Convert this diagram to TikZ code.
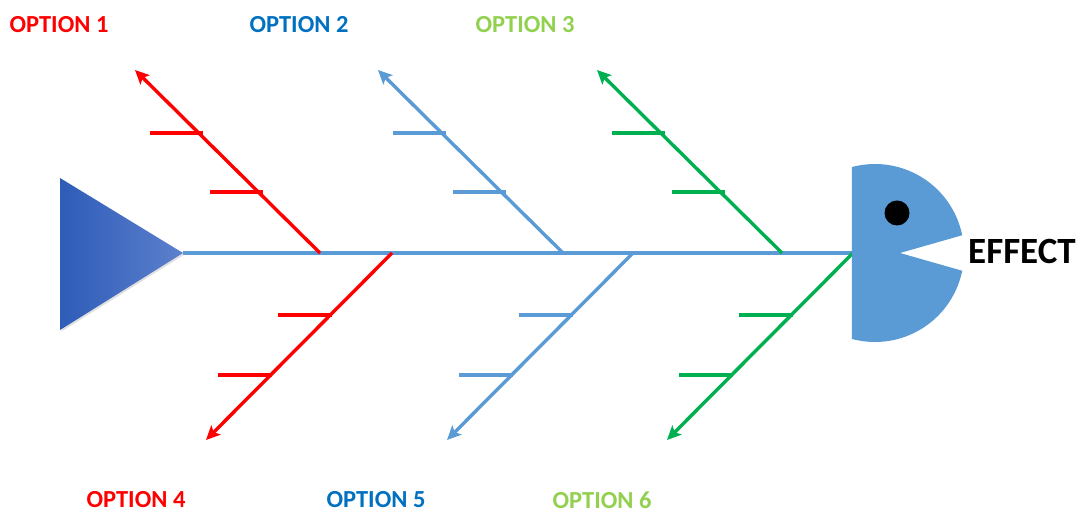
\documentclass[tikz,border=0pt]{standalone}
\usepackage{fontspec}
\setmainfont{Carlito}
\usetikzlibrary{arrows.meta,shadows,calc}
\definecolor{spineblue}{RGB}{91,155,213}
\definecolor{optred}{RGB}{255,0,0}
\definecolor{bonered}{RGB}{255,0,0}
\definecolor{boneblue}{RGB}{91,155,213}
\definecolor{bonegreen}{RGB}{0,176,80}
\definecolor{lblblue}{RGB}{0,112,192}
\definecolor{lblgreen}{RGB}{146,208,80}
\definecolor{tailleft}{RGB}{46,92,184}
\definecolor{tailright}{RGB}{92,128,204}
\begin{document}
\begin{tikzpicture}[x=1pt,y=1pt,
  bone/.style={line width=3.4pt,-{Stealth[length=14pt,width=13pt,inset=3pt]}},
  rib/.style={line width=3.4pt},
  lbl/.style={font=\bfseries\fontsize{24.5}{28}\selectfont, inner sep=0pt},
]
\useasboundingbox (0,0) rectangle (1083,513);

% tail
\path[left color=tailleft,right color=tailright,
      drop shadow={shadow xshift=1.5pt,shadow yshift=-1.5pt,opacity=0.25}]
  (60,335) -- (183,260) -- (60,183) -- cycle;
\coordinate (tailtip) at (183,260);
\coordinate (headback) at (852,260);

% spine
\draw[spineblue,line width=3.8pt] (tailtip) -- (headback);

% upper bones
\foreach \bx/\col in {320/bonered,563/boneblue,782/bonegreen}{
  \coordinate (ub\bx) at (\bx,260);
  \coordinate (ut\bx) at ({\bx-185},443);
  \draw[bone,\col] (ub\bx) -- (ut\bx);
  \coordinate (ra\bx) at ({\bx-170},380);
  \coordinate (rb\bx) at ({\bx-117},380);
  \coordinate (rc\bx) at ({\bx-110},321);
  \coordinate (rd\bx) at ({\bx-57},321);
  \draw[rib,\col] (ra\bx) -- (rb\bx);
  \draw[rib,\col] (rc\bx) -- (rd\bx);
}
% lower bones
\foreach \bx/\col in {392/bonered,633/boneblue,853/bonegreen}{
  \coordinate (lb\bx) at (\bx,260);
  \coordinate (lt\bx) at ({\bx-186},73);
  \draw[bone,\col] (lb\bx) -- (lt\bx);
  \coordinate (sa\bx) at ({\bx-114},198);
  \coordinate (sb\bx) at ({\bx-60},198);
  \coordinate (sc\bx) at ({\bx-174},138);
  \coordinate (sd\bx) at ({\bx-120},138);
  \draw[rib,\col] (sa\bx) -- (sb\bx);
  \draw[rib,\col] (sc\bx) -- (sd\bx);
}

% head
\coordinate (hc) at (875,260);
\fill[spineblue] ($(hc)+(105:89)$) arc[start angle=105,end angle=11.5,radius=89]
  -- (900,260) -- ($(hc)+(-11.5:89)$) arc[start angle=-11.5,end angle=-105,radius=89] -- cycle;
\fill[black] (897,300) circle (12.5);

% labels
\node[lbl,text=optred]   (o1) at (59,488) {OPTION 1};
\node[lbl,text=lblblue]  (o2) at (299,488) {OPTION 2};
\node[lbl,text=lblgreen] (o3) at (525,488) {OPTION 3};
\node[lbl,text=optred]   (o4) at (136,13) {OPTION 4};
\node[lbl,text=lblblue]  (o5) at (376,13) {OPTION 5};
\node[lbl,text=lblgreen] (o6) at (602,13) {OPTION 6};
\node[font=\bfseries\fontsize{37}{42}\selectfont,inner sep=0pt] (eff) at (1022,261) {EFFECT};
\end{tikzpicture}
\end{document}
